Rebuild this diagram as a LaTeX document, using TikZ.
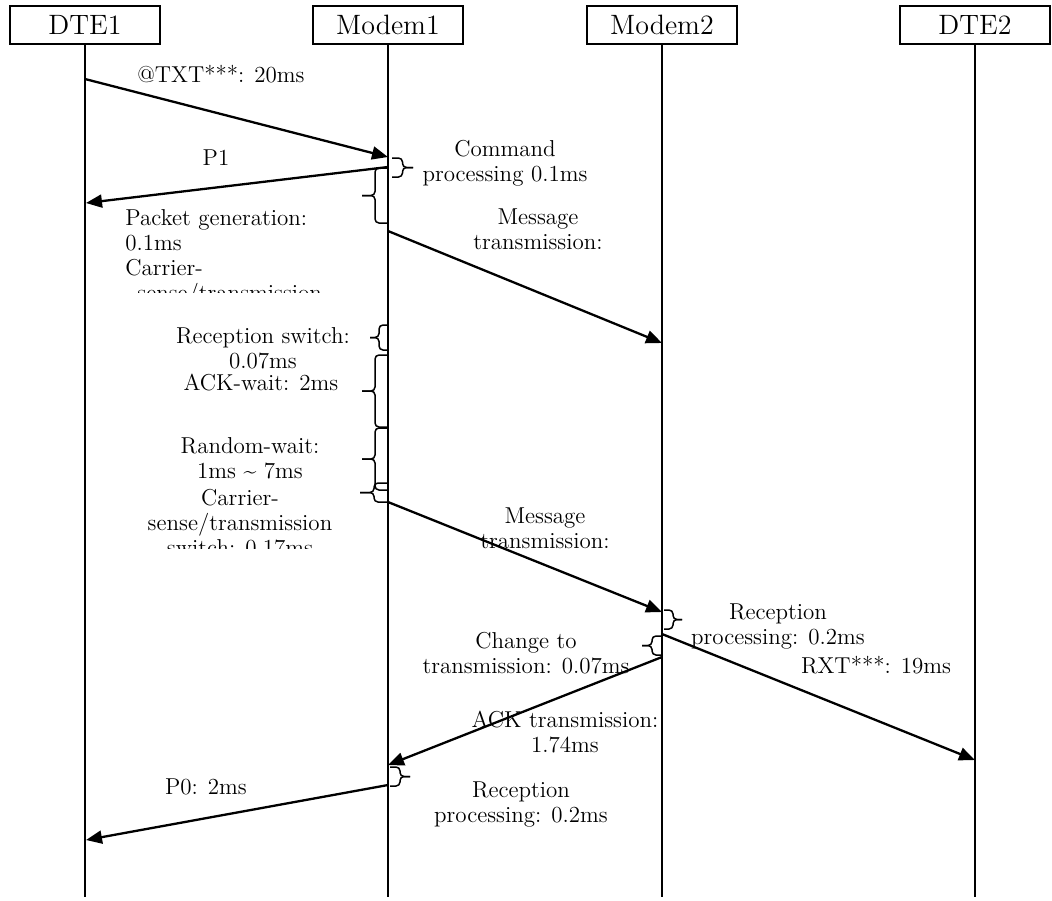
\documentclass[tikz,border=0pt]{standalone}
\usepackage{tikz}
\usetikzlibrary{arrows.meta}

\tikzset{
  actor/.style={draw, line width=0.85pt, minimum width=75pt, minimum height=19pt, inner sep=0pt, font=\fontsize{14}{16}\selectfont},
  life/.style={line width=0.85pt},
  msg/.style={line width=1.15pt, -{Triangle[length=8pt, width=6.5pt]}},
  bracket/.style={line width=0.75pt, rounded corners=2pt},
  note/.style={inner sep=0pt, align=center, font=\fontsize{11.5}{12.5}\selectfont}
}

% x, top, bottom, width (negative points left)
\newcommand{\sidebrace}[4]{%
  \draw[bracket] (#1,#2) -- ({#1+(#4)/2},#2) -- ({#1+(#4)/2},{(#2+#3)/2}) -- ({#1+(#4)},{(#2+#3)/2});
  \draw[bracket] (#1,#3) -- ({#1+(#4)/2},#3) -- ({#1+(#4)/2},{(#2+#3)/2}) -- ({#1+(#4)},{(#2+#3)/2});
}

\begin{document}
\begin{tikzpicture}[x=0.5pt, y=-0.5pt]
    \useasboundingbox (0,0) rectangle (1052,900);

    \node[actor] (dte1) at (85,25) {DTE1};
    \node[actor] (modem1) at (388,25) {Modem1};
    \node[actor] (modem2) at (662,25) {Modem2};
    \node[actor] (dte2) at (975,25) {DTE2};

    \coordinate (dte1end) at (85,897);
    \coordinate (modem1end) at (388,897);
    \coordinate (modem2end) at (662,897);
    \coordinate (dte2end) at (975,897);

    \draw[life] (dte1.south) -- (dte1end);
    \draw[life] (modem1.south) -- (modem1end);
    \draw[life] (modem2.south) -- (modem2end);
    \draw[life] (dte2.south) -- (dte2end);

    \coordinate (txtA) at (85,79);
    \coordinate (txtB) at (388,157);
    \coordinate (p1A) at (388,167);
    \coordinate (p1B) at (86,203);
    \coordinate (msgoneA) at (388,231);
    \coordinate (msgoneB) at (662,343);
    \coordinate (msgtwoA) at (388,502);
    \coordinate (msgtwoB) at (662,612);
    \coordinate (rxtA) at (662,634);
    \coordinate (rxtB) at (975,760);
    \coordinate (ackA) at (662,657);
    \coordinate (ackB) at (388,765);
    \coordinate (p0A) at (388,785);
    \coordinate (p0B) at (86,840);

    \draw[msg] (txtA) -- (txtB);
    \draw[msg] (p1A) -- (p1B);
    \draw[msg] (msgoneA) -- (msgoneB);
    \draw[msg] (msgtwoA) -- (msgtwoB);
    \draw[msg] (rxtA) -- (rxtB);
    \draw[msg] (ackA) -- (ackB);
    \draw[msg] (p0A) -- (p0B);

    \sidebrace{392}{158}{177}{21}
    \sidebrace{388}{168}{223}{-26}
    \sidebrace{388}{325}{350}{-18}
    \sidebrace{388}{355}{427}{-26}
    \sidebrace{388}{428}{490}{-26}
    \sidebrace{388}{483}{502}{-28}
    \sidebrace{664}{610}{629}{18}
    \sidebrace{662}{636}{655}{-20}
    \sidebrace{390}{767}{786}{20}

    \node[note, anchor=base] (txtlbl) at (221,82) {@TXT***: 20ms};
    \node[note, anchor=base] (p1lbl) at (216,165) {P1};
    \node[note, anchor=north] (cmdlbl) at (505,140) {Command\\processing 0.1ms};
    \node[note, anchor=north] (msgonelbl) at (538,208) {Message\\transmission:};
    \begin{scope}
      \clip (100,200) rectangle (345,292);
      \node[note, align=left, anchor=north west] (pktlbl) at (125,209) {Packet generation:\\0.1ms\\Carrier-\\\hspace*{6pt}sense/transmission};
    \end{scope}
    \node[note, anchor=north] (rswlbl) at (263,327) {Reception switch:\\0.07ms};
    \node[note, anchor=base] (ackwlbl) at (261,390) {ACK-wait: 2ms};
    \node[note, anchor=north] (rndlbl) at (250,437) {Random-wait:\\1ms \textasciitilde{} 7ms};
    \begin{scope}
      \clip (120,480) rectangle (360,548);
      \node[note, anchor=north] (cslbl) at (240,489) {Carrier-\\sense/transmission\\switch: 0.17ms};
    \end{scope}
    \node[note, anchor=north] (msgtwolbl) at (545,507) {Message\\transmission:};
    \node[note, anchor=north] (rectwolbl) at (778,603) {Reception\\processing: 0.2ms};
    \node[note, anchor=north] (chglbl) at (526,632) {Change to\\transmission: 0.07ms};
    \node[note, anchor=base] (rxtlbl) at (876,673) {RXT***: 19ms};
    \node[note, anchor=north] (acklbl) at (565,711) {ACK transmission:\\1.74ms};
    \node[note, anchor=base] (p0lbl) at (206,794) {P0: 2ms};
    \node[note, anchor=north] (reconelbl) at (521,781) {Reception\\processing: 0.2ms};
\end{tikzpicture}
\end{document}
